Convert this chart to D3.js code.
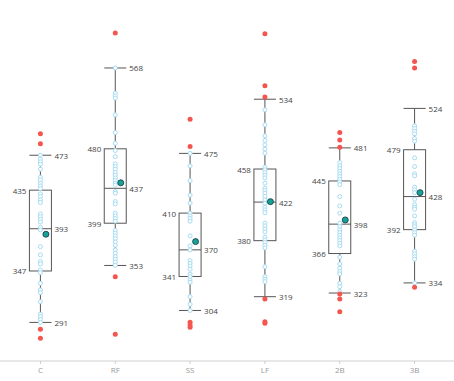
<!DOCTYPE html>
<html><head><meta charset="utf-8">
<script src="https://cdn.jsdelivr.net/npm/d3@7"></script>
<style>body{margin:0;background:#fff}svg{display:block}text{font-family:"Open Sans","Noto Sans",sans-serif}</style>
</head><body><svg id="c" width="454" height="381"></svg>
<script>
const categories = ["C","RF","SS","LF","2B","3B"];
const q1 = [347,399,341,380,366,392];
const median = [393,437,370,422,398,428];
const q3 = [435,480,410,458,445,479];
const whiskerLow = [291,353,304,319,323,334];
const whiskerHigh = [473,568,475,534,481,524];
const means = [387,443,379,422.5,402.6,432.3];
const pointsC = [473,468.7,465.8,463.3,457.8,449.1,446.2,442.6,439.6,436.7,430.9,428,424.4,421.5,409.1,406.2,403.3,400.4,394.6,391.7,373.5,364.5,357.2,354.7,348.1,345.2,333.6,326.3,323.4,313.6,299.9,297.3,294.4,291];
const pointsRF = [568,540.6,537.7,535.2,517,497.7,486.1,478.1,471.5,463.6,460.7,457.8,454.1,451.3,448.3,445.4,442.6,440.4,433.4,431.7,422.5,420,409.9,406.9,404,401.2,391,388.1,385.2,382.2,378.6,375,369.9,366.3,362.6,359.8,356.8,353.2];
const pointsSS = [475,461.4,445.4,429.5,420.8,409.9,406.9,404,401.2,385.2,374.3,369.9,358.3,355.4,352.5,348.9,343.4,340.8,337.2,334.7,319,310.8,304];
const pointsLF = [522.4,506.1,494.1,489,484.3,479.6,475.3,460,457.1,454.1,451.3,448.3,442.6,437.1,434.5,431.7,428,424.4,420.8,416.4,413.5,410.5,399,396.1,392.5,389.5,383.7,380.8,377.9,375,372.1,351.7,340.8,338,335.4];
const points2B = [465,461.4,458.5,455.6,452.7,449.8,446.9,444,441,428,417.8,409.9,399,395.3,391.7,388.8,385.9,383,380.1,377.2,374.3,362,354.7,350,346.3,343.8,333.6,329.9,324.5];
const points3B = [505,502.1,499.2,496.3,491.2,488.3,470.1,460.7,452.7,450.5,438.2,435.3,432.3,425.1,419.3,416.4,414.2,406.9,399.7,397.5,395.3,391.7,388.8,385.9,368.5,365.6,362.6,359.8,334];
const outliersC = [496.3,485.4,283.5,273.7];
const outliersRF = [606,340.8,278];
const outliersSS = [512.3,482.5,291.2,288.2,285.7];
const outliersLF = [605.2,548.6,536.3,316.5,291.8,290];
const outliers2B = [497.7,489.7,481.8,322,316.5,302.7];
const outliers3B = [575,567.9,329.3];

const points = [pointsC,pointsRF,pointsSS,pointsLF,points2B,points3B];
const outliers = [outliersC,outliersRF,outliersSS,outliersLF,outliers2B,outliers3B];

const svg = d3.select("#c");
const x = d3.scaleBand().domain(categories).range([3,452]);
const y = d3.scaleLinear().domain([249,642]).range([361,0]);
const bw = 22;

// x axis
const ax = svg.append("g").attr("transform","translate(0,361)");
ax.append("line").attr("x1",0).attr("x2",454).attr("stroke","#d0d0d0");
const axis = d3.axisBottom(x).tickSize(3).tickPadding(3);
const ag = ax.append("g").call(axis);
ag.select(".domain").remove();
ag.selectAll(".tick line").attr("stroke","#ccc");
ag.selectAll(".tick text").attr("fill","#999").attr("font-size","8px").attr("font-family","'Open Sans',sans-serif");

const data = categories.map((c,i)=>({c,i,q1:q1[i],med:median[i],q3:q3[i],lo:whiskerLow[i],hi:whiskerHigh[i],mean:means[i],pts:points[i],out:outliers[i]}));

const g = svg.selectAll(".box").data(data).enter().append("g");
const cx = d => x(d.c)+x.bandwidth()/2;
const stroke = "#555";
g.append("line").attr("x1",cx).attr("x2",cx).attr("y1",d=>y(d.hi)).attr("y2",d=>y(d.q3)).attr("stroke",stroke);
g.append("line").attr("x1",cx).attr("x2",cx).attr("y1",d=>y(d.q1)).attr("y2",d=>y(d.lo)).attr("stroke",stroke);
g.append("line").attr("x1",d=>cx(d)-bw/2).attr("x2",d=>cx(d)+bw/2).attr("y1",d=>y(d.hi)).attr("y2",d=>y(d.hi)).attr("stroke",stroke);
g.append("line").attr("x1",d=>cx(d)-bw/2).attr("x2",d=>cx(d)+bw/2).attr("y1",d=>y(d.lo)).attr("y2",d=>y(d.lo)).attr("stroke",stroke);
g.append("rect").attr("x",d=>cx(d)-bw/2).attr("width",bw).attr("y",d=>y(d.q3)).attr("height",d=>y(d.q1)-y(d.q3)).attr("fill","none").attr("stroke",stroke);
g.append("line").attr("x1",d=>cx(d)-bw/2).attr("x2",d=>cx(d)+bw/2).attr("y1",d=>y(d.med)).attr("y2",d=>y(d.med)).attr("stroke",stroke);

// points
g.each(function(d){
  const gg = d3.select(this);
  gg.selectAll(".pt").data(d.pts).enter().append("circle")
    .attr("cx",cx(d)).attr("cy",v=>y(v)).attr("r",2)
    .attr("fill","#fff").attr("stroke","#a6dcf2").attr("stroke-width",1);
  gg.selectAll(".out").data(d.out).enter().append("circle")
    .attr("cx",cx(d)).attr("cy",v=>y(v)).attr("r",2.5)
    .attr("fill","#f4564f");
});
g.append("circle").attr("cx",d=>cx(d)+5.5).attr("cy",d=>y(d.mean)).attr("r",3)
  .attr("fill","#14a394").attr("stroke","#134").attr("stroke-width",0.8);

// labels
const lab = (sel)=>sel.attr("font-size","8px").attr("fill","#444").attr("dominant-baseline","central");
lab(g.append("text").attr("x",d=>cx(d)-bw/2-3).attr("y",d=>y(d.q3)).attr("text-anchor","end").text(d=>d.q3));
lab(g.append("text").attr("x",d=>cx(d)-bw/2-3).attr("y",d=>y(d.q1)).attr("text-anchor","end").text(d=>d.q1));
lab(g.append("text").attr("x",d=>cx(d)+bw/2+3).attr("y",d=>y(d.med)).text(d=>d.med));
lab(g.append("text").attr("x",d=>cx(d)+bw/2+3).attr("y",d=>y(d.hi)).text(d=>d.hi));
lab(g.append("text").attr("x",d=>cx(d)+bw/2+3).attr("y",d=>y(d.lo)).text(d=>d.lo));
</script></body></html>
